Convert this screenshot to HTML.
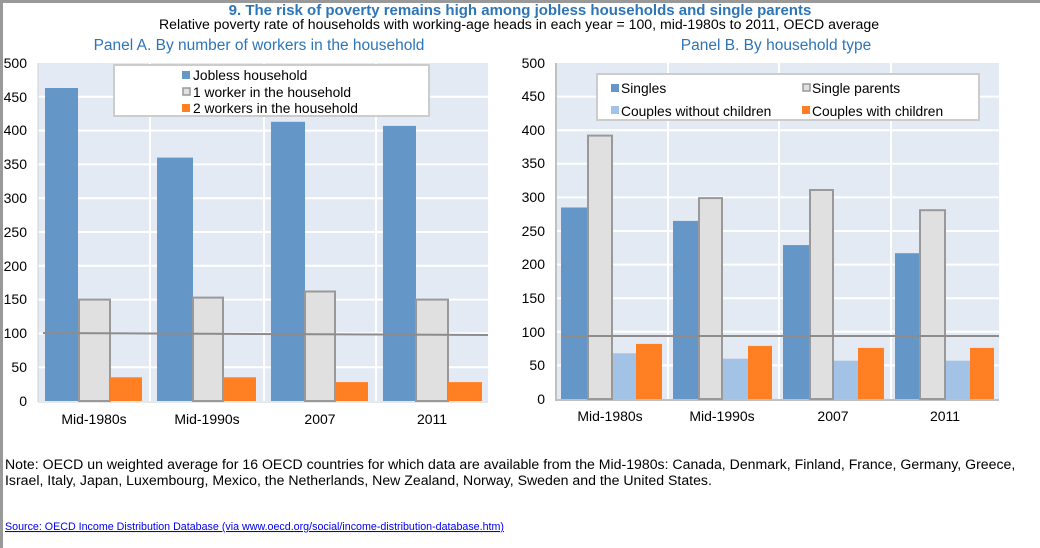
<!DOCTYPE html>
<html><head><meta charset="utf-8"><style>
html,body{margin:0;padding:0;background:#fff;}
svg{display:block;font-family:"Liberation Sans",Arial,sans-serif;}
</style></head><body>
<svg width="1040" height="548" viewBox="0 0 1040 548" xmlns="http://www.w3.org/2000/svg">
<rect x="0" y="0" width="1040" height="3" fill="#999"/>
<rect x="0" y="0" width="3" height="548" fill="#999"/>
<text x="520" y="15" text-anchor="middle" font-size="15" font-weight="bold" fill="#2e75b6">9. The risk of poverty remains high among jobless households and single parents</text>
<text x="519" y="29" text-anchor="middle" font-size="14.1" fill="#000">Relative poverty rate of households with working-age heads in each year = 100, mid-1980s to 2011, OECD average</text>
<text x="259" y="50" text-anchor="middle" font-size="15.5" fill="#2e75b6">Panel A. By number of workers in the household</text>
<text x="776" y="50" text-anchor="middle" font-size="15.5" fill="#2e75b6">Panel B. By household type</text>

<!-- Panel A -->
<g>
<rect x="38" y="63" width="450" height="338" fill="#e3eaf4"/>
<g stroke="#fff" stroke-width="2">
<line x1="38" x2="488" y1="367.2" y2="367.2"/><line x1="38" x2="488" y1="333.4" y2="333.4"/>
<line x1="38" x2="488" y1="299.6" y2="299.6"/><line x1="38" x2="488" y1="265.8" y2="265.8"/>
<line x1="38" x2="488" y1="232" y2="232"/><line x1="38" x2="488" y1="198.2" y2="198.2"/>
<line x1="38" x2="488" y1="164.4" y2="164.4"/><line x1="38" x2="488" y1="130.6" y2="130.6"/>
<line x1="38" x2="488" y1="96.8" y2="96.8"/>
<line x1="150" x2="150" y1="63" y2="401"/><line x1="264" x2="264" y1="63" y2="401"/><line x1="376" x2="376" y1="63" y2="401"/>
</g>
<line x1="38" x2="38" y1="63" y2="402" stroke="#d0d0d0"/>
<line x1="38" x2="488" y1="402" y2="402" stroke="#d0d0d0"/>
<g fill="#6496c8">
<rect x="45" y="88" width="33" height="313"/>
<rect x="157" y="157.6" width="36" height="243.4"/>
<rect x="271" y="121.8" width="34" height="279.2"/>
<rect x="383" y="125.9" width="33" height="275.1"/>
</g>
<g fill="#e0e0e0" stroke="#999" stroke-width="2">
<rect x="79" y="299.6" width="31" height="101.4"/>
<rect x="193" y="297.6" width="30" height="103.4"/>
<rect x="305" y="291.5" width="30" height="109.5"/>
<rect x="416" y="299.6" width="32" height="101.4"/>
</g>
<g fill="#ff7f22">
<rect x="110" y="377.3" width="32" height="23.7"/>
<rect x="223" y="377.3" width="33" height="23.7"/>
<rect x="335" y="382.1" width="33" height="18.9"/>
<rect x="448" y="382.1" width="34" height="18.9"/>
</g>
<line x1="43" y1="333" x2="488" y2="335" stroke="#8c8c8c" stroke-width="2"/>
<rect x="114" y="65" width="315" height="51" fill="#fff" stroke="#ccc" stroke-width="2"/>
<g font-size="13.8" fill="#000">
<rect x="182" y="71" width="8" height="8" fill="#6496c8"/><text x="193" y="80">Jobless household</text>
<rect x="183" y="88" width="7" height="7" fill="#e0e0e0" stroke="#999" stroke-width="1.5"/><text x="193" y="97">1 worker in the household</text>
<rect x="182" y="104" width="8" height="8" fill="#ff7f22"/><text x="193" y="113">2 workers in the household</text>
</g>
<g font-size="14" fill="#000" text-anchor="end">
<text x="27" y="406">0</text><text x="27" y="372">50</text><text x="27" y="338">100</text>
<text x="27" y="304">150</text><text x="27" y="271">200</text><text x="27" y="237">250</text>
<text x="27" y="203">300</text><text x="27" y="169">350</text><text x="27" y="135">400</text>
<text x="27" y="102">450</text><text x="27" y="68">500</text>
</g>
<g font-size="14" fill="#000" text-anchor="middle">
<text x="94" y="424">Mid-1980s</text><text x="207" y="424">Mid-1990s</text>
<text x="320" y="424">2007</text><text x="432" y="424">2011</text>
</g>
</g>

<!-- Panel B -->
<g>
<rect x="556" y="63" width="443" height="336" fill="#e3eaf4"/>
<g stroke="#fff" stroke-width="2">
<line x1="556" x2="999" y1="365.4" y2="365.4"/><line x1="556" x2="999" y1="331.8" y2="331.8"/>
<line x1="556" x2="999" y1="298.2" y2="298.2"/><line x1="556" x2="999" y1="264.6" y2="264.6"/>
<line x1="556" x2="999" y1="231" y2="231"/><line x1="556" x2="999" y1="197.4" y2="197.4"/>
<line x1="556" x2="999" y1="163.8" y2="163.8"/><line x1="556" x2="999" y1="130.2" y2="130.2"/>
<line x1="556" x2="999" y1="96.6" y2="96.6"/>
<line x1="668" x2="668" y1="63" y2="399"/><line x1="779" x2="779" y1="63" y2="399"/><line x1="891" x2="891" y1="63" y2="399"/>
</g>
<line x1="556" x2="556" y1="63" y2="400" stroke="#c0c0c0" stroke-width="2"/>
<line x1="555" x2="999" y1="400" y2="400" stroke="#c0c0c0" stroke-width="2"/>
<g fill="#6496c8">
<rect x="561" y="207.5" width="27" height="191.5"/>
<rect x="673" y="220.9" width="26" height="178.1"/>
<rect x="783" y="245.1" width="27" height="153.9"/>
<rect x="895" y="253.2" width="25" height="145.8"/>
</g>
<g fill="#e0e0e0" stroke="#999" stroke-width="2">
<rect x="588" y="135.6" width="24" height="263.4"/>
<rect x="699" y="198.1" width="23" height="200.9"/>
<rect x="810" y="190" width="23" height="209"/>
<rect x="920" y="210.2" width="25" height="188.8"/>
</g>
<g fill="#a2c3e6">
<rect x="613" y="353.3" width="23" height="45.7"/>
<rect x="723" y="358.7" width="25" height="40.3"/>
<rect x="834" y="360.7" width="24" height="38.3"/>
<rect x="946" y="360.7" width="24" height="38.3"/>
</g>
<g fill="#ff7f22">
<rect x="636" y="343.9" width="26" height="55.1"/>
<rect x="748" y="345.9" width="24" height="53.1"/>
<rect x="858" y="347.9" width="26" height="51.1"/>
<rect x="970" y="347.9" width="24" height="51.1"/>
</g>
<line x1="561" y1="336" x2="999" y2="336" stroke="#8c8c8c" stroke-width="2"/>
<rect x="597" y="74" width="382" height="46" fill="#fff" stroke="#ccc" stroke-width="2"/>
<g font-size="13.8" fill="#000">
<rect x="611" y="84" width="8" height="8" fill="#6496c8"/><text x="621" y="93">Singles</text>
<rect x="803" y="84" width="7" height="7" fill="#e0e0e0" stroke="#999" stroke-width="1.5"/><text x="812" y="93">Single parents</text>
<rect x="611" y="106" width="8" height="8" fill="#a2c3e6"/><text x="621" y="116">Couples without children</text>
<rect x="802" y="106" width="8" height="8" fill="#ff7f22"/><text x="812" y="116">Couples with children</text>
</g>
<g font-size="14" fill="#000" text-anchor="end">
<text x="545" y="404">0</text><text x="545" y="370">50</text><text x="545" y="337">100</text>
<text x="545" y="303">150</text><text x="545" y="269">200</text><text x="545" y="236">250</text>
<text x="545" y="202">300</text><text x="545" y="168">350</text><text x="545" y="135">400</text>
<text x="545" y="101">450</text><text x="545" y="68">500</text>
</g>
<g font-size="14" fill="#000" text-anchor="middle">
<text x="610" y="421">Mid-1980s</text><text x="722" y="421">Mid-1990s</text>
<text x="833" y="421">2007</text><text x="945" y="421">2011</text>
</g>
</g>

<g font-size="14.1" fill="#000">
<text x="5" y="469">Note: OECD un weighted average for 16 OECD countries for which data are available from the Mid-1980s: Canada, Denmark, Finland, France, Germany, Greece,</text>
<text x="5" y="485">Israel, Italy, Japan, Luxembourg, Mexico, the Netherlands, New Zealand, Norway, Sweden and the United States.</text>
</g>
<text x="5" y="530" font-size="10.7" fill="#0000ee" text-decoration="underline">Source: OECD Income Distribution Database (via www.oecd.org/social/income-distribution-database.htm)</text>
</svg>
</body></html>
